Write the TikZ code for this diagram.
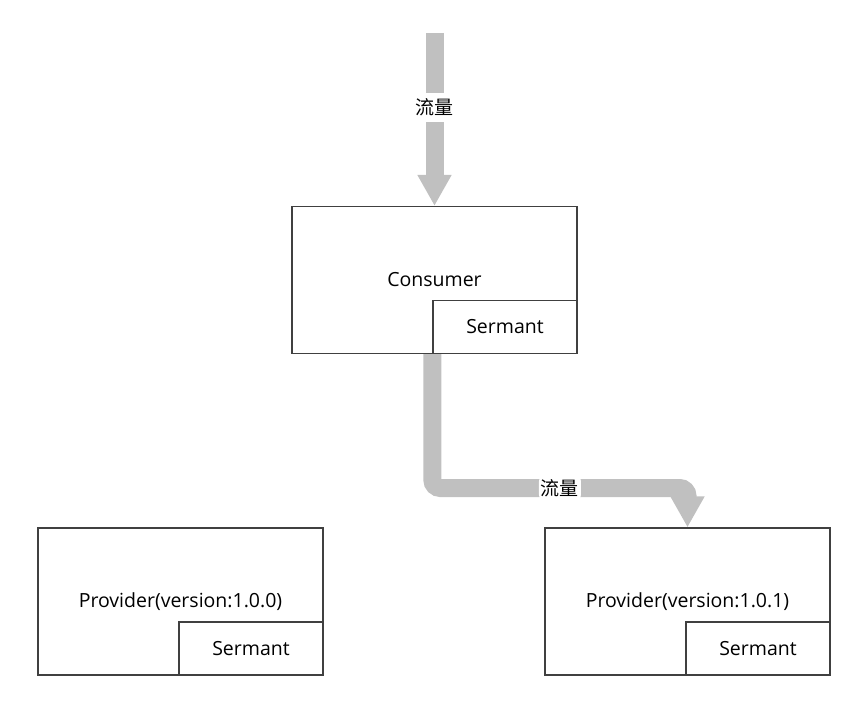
\documentclass[tikz,border=0pt]{standalone}
\usepackage{fontspec}
\setmainfont{Open Sans}
\newfontfamily\cjk{Noto Sans CJK SC}
\usetikzlibrary{arrows.meta,positioning}
\definecolor{flowgray}{RGB}{192,192,192}
\definecolor{boxline}{RGB}{64,64,64}

\begin{document}
\begin{tikzpicture}[x=1pt,y=-1pt,
	box/.style={draw=boxline, line width=1.2pt, minimum width=285pt, minimum height=147pt, inner sep=0pt, font=\fontsize{19.5}{23}\selectfont},
	agent/.style={draw=boxline, line width=1.2pt, minimum width=144pt, minimum height=53pt, inner sep=0pt, anchor=south east, font=\fontsize{19.5}{23}\selectfont},
	flow/.style={draw=flowgray, line width=18pt, -{Triangle[width=32pt,length=31pt]}},
	flowlabel/.style={fill=white, inner sep=2pt, minimum height=29pt, font=\cjk\fontsize{19}{21}\selectfont}]
	\useasboundingbox (0,0) rectangle (865,711);
	\node[box] (consumer) at (434.5,280) {Consumer};
	\node[agent] (consumer-s) at (consumer.south east) {Sermant};
	\node[box] (prov-a) at (180.5,601.5) {Provider(version:1.0.0)};
	\node[agent] (prov-a-s) at (prov-a.south east) {Sermant};
	\node[box] (prov-b) at (687.5,601.5) {Provider(version:1.0.1)};
	\node[agent] (prov-b-s) at (prov-b.south east) {Sermant};
	\coordinate (in) at (434.5,33);
	\coordinate (turn) at (687.5,488);
	\draw[flow] (in) -- node[flowlabel, pos=0.43] {流量} (consumer.north);
	\draw[flow, rounded corners=8pt] (consumer-s.south west) |- node[flowlabel, pos=0.75] {流量} (turn) -- (prov-b.north);
\end{tikzpicture}
\end{document}
